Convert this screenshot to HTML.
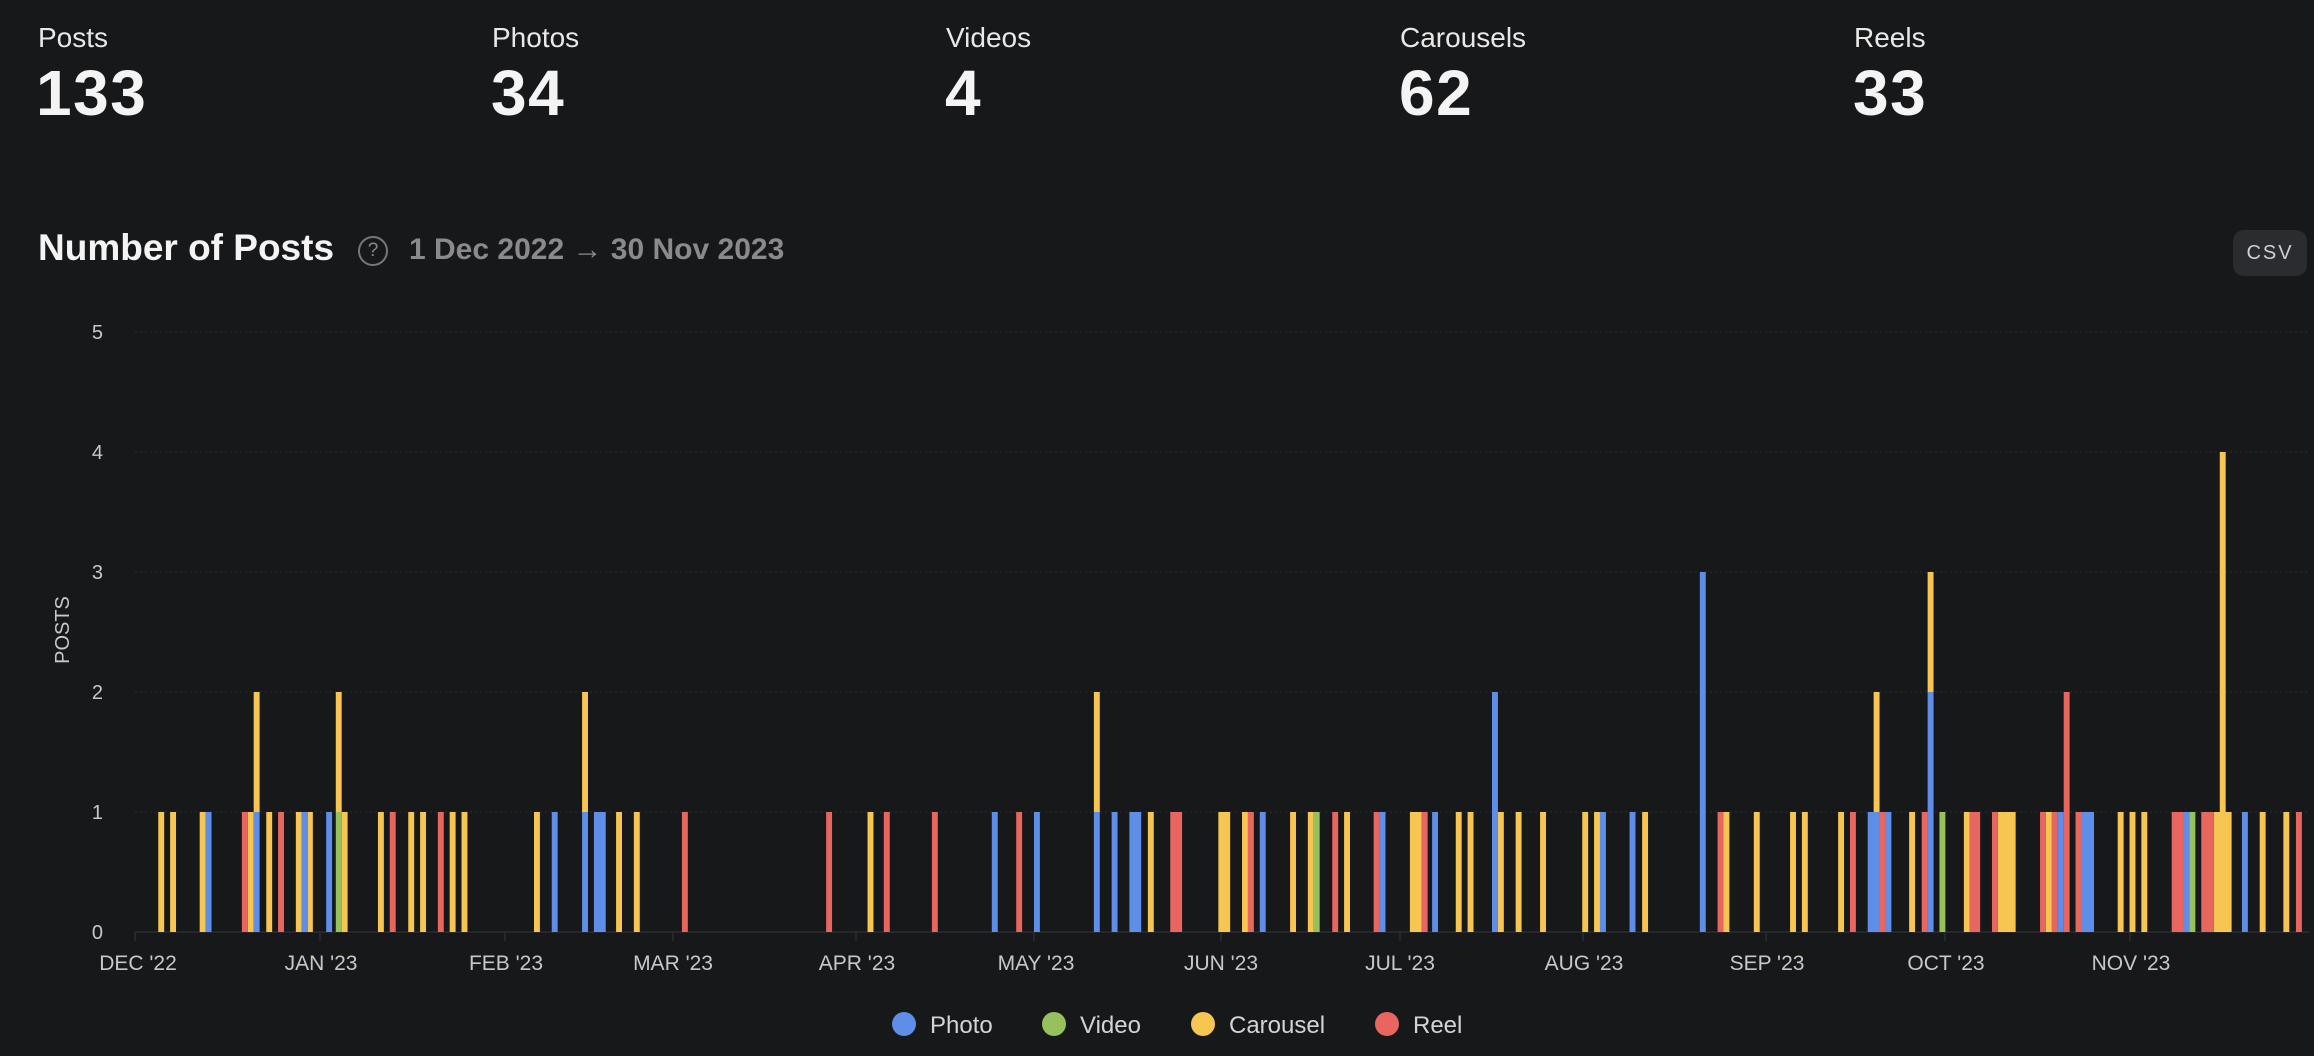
<!DOCTYPE html>
<html><head><meta charset="utf-8"><style>
html,body{margin:0;padding:0;background:#17181a;}
body{width:2314px;height:1056px;position:relative;overflow:hidden;font-family:"Liberation Sans",sans-serif;color:#f2f2f2;}
.lab{position:absolute;font-size:28px;color:#e8e8e8;top:22px;}
.num{position:absolute;font-size:64px;font-weight:700;top:56px;color:#f4f4f4;letter-spacing:1.5px;}
</style></head><body>
<div class="lab" style="left:38px">Posts</div><div class="num" style="left:36px">133</div>
<div class="lab" style="left:492px">Photos</div><div class="num" style="left:491px">34</div>
<div class="lab" style="left:946px">Videos</div><div class="num" style="left:945px">4</div>
<div class="lab" style="left:1400px">Carousels</div><div class="num" style="left:1399px">62</div>
<div class="lab" style="left:1854px">Reels</div><div class="num" style="left:1853px">33</div>
<div style="position:absolute;left:38px;top:227px;font-size:37px;font-weight:700;color:#f4f4f4;">Number of Posts</div>
<div style="position:absolute;left:358px;top:236px;width:26px;height:26px;border:2px solid #777;border-radius:50%;color:#888;font-size:19px;text-align:center;line-height:26px;">?</div>
<div style="position:absolute;left:409px;top:233px;font-size:30px;color:#8a8a8c;font-weight:700;">1 Dec 2022 → 30 Nov 2023</div>
<div style="position:absolute;left:2233px;top:230px;width:74px;height:46px;border-radius:11px;background:#2b2c30;color:#cfcfcf;font-size:20px;letter-spacing:2px;text-align:center;line-height:46px;">CSV</div>
<svg width="2314" height="1056" style="position:absolute;left:0;top:0" font-family="Liberation Sans, sans-serif">
<g stroke="#26272a" stroke-width="1.5" stroke-dasharray="2,3">
<line x1="135" x2="2310" y1="812" y2="812"/><line x1="135" x2="2310" y1="692" y2="692"/><line x1="135" x2="2310" y1="572" y2="572"/><line x1="135" x2="2310" y1="452" y2="452"/><line x1="135" x2="2310" y1="332" y2="332"/>
</g>
<line x1="135" x2="2310" y1="932" y2="932" stroke="#26272a" stroke-width="2"/>
<g fill="#c8c8c8" font-size="20" text-anchor="end">
<text x="103" y="939">0</text><text x="103" y="819">1</text><text x="103" y="699">2</text><text x="103" y="579">3</text><text x="103" y="459">4</text><text x="103" y="339">5</text>
</g>
<text transform="translate(69,630) rotate(-90)" fill="#c8c8c8" font-size="20" text-anchor="middle">POSTS</text>
<g stroke="#2c2d30" stroke-width="1.5">
<line x1="135" x2="135" y1="932" y2="941"/><line x1="320" x2="320" y1="932" y2="941"/><line x1="505" x2="505" y1="932" y2="941"/><line x1="673" x2="673" y1="932" y2="941"/><line x1="856" x2="856" y1="932" y2="941"/><line x1="1034" x2="1034" y1="932" y2="941"/><line x1="1221" x2="1221" y1="932" y2="941"/><line x1="1400" x2="1400" y1="932" y2="941"/><line x1="1583" x2="1583" y1="932" y2="941"/><line x1="1766" x2="1766" y1="932" y2="941"/><line x1="1945" x2="1945" y1="932" y2="941"/><line x1="2130" x2="2130" y1="932" y2="941"/>
</g>
<g fill="#c8c8c8" font-size="21" text-anchor="middle">
<text x="138" y="970">DEC '22</text><text x="321" y="970">JAN '23</text><text x="506" y="970">FEB '23</text><text x="673" y="970">MAR '23</text><text x="857" y="970">APR '23</text><text x="1036" y="970">MAY '23</text><text x="1221" y="970">JUN '23</text><text x="1400" y="970">JUL '23</text><text x="1584" y="970">AUG '23</text><text x="1767" y="970">SEP '23</text><text x="1946" y="970">OCT '23</text><text x="2131" y="970">NOV '23</text>
</g>
<g transform="translate(0,0) scale(0.7396,1)">
<g fill="#f7c552">
<rect x="214" y="812" width="8" height="120"/><rect x="230" y="812" width="8" height="120"/><rect x="270" y="812" width="8" height="120"/><rect x="335" y="812" width="8" height="120"/><rect x="343" y="692" width="8" height="120"/><rect x="360" y="812" width="8" height="120"/><rect x="400" y="812" width="8" height="120"/><rect x="416" y="812" width="7" height="120"/><rect x="454" y="692" width="8" height="120"/><rect x="462" y="812" width="8" height="120"/><rect x="511" y="812" width="8" height="120"/><rect x="552" y="812" width="8" height="120"/><rect x="568" y="812" width="8" height="120"/><rect x="608" y="812" width="8" height="120"/><rect x="624" y="812" width="8" height="120"/><rect x="722" y="812" width="8" height="120"/><rect x="787" y="692" width="8" height="120"/><rect x="833" y="812" width="8" height="120"/><rect x="857" y="812" width="8" height="120"/><rect x="1173" y="812" width="8" height="120"/><rect x="1479" y="692" width="8" height="120"/><rect x="1552" y="812" width="8" height="120"/>
</g>
<g fill="#5f8ee8">
<rect x="278" y="812" width="8" height="120"/><rect x="343" y="812" width="8" height="120"/><rect x="408" y="812" width="8" height="120"/><rect x="441" y="812" width="8" height="120"/><rect x="746" y="812" width="8" height="120"/><rect x="787" y="812" width="8" height="120"/><rect x="803" y="812" width="16" height="120"/><rect x="1341" y="812" width="8" height="120"/><rect x="1398" y="812" width="8" height="120"/><rect x="1479" y="812" width="8" height="120"/><rect x="1503" y="812" width="8" height="120"/><rect x="1527" y="812" width="16" height="120"/>
</g>
<g fill="#e8665f">
<rect x="327" y="812" width="8" height="120"/><rect x="376" y="812" width="8" height="120"/><rect x="527" y="812" width="8" height="120"/><rect x="592" y="812" width="8" height="120"/><rect x="922" y="812" width="8" height="120"/><rect x="1117" y="812" width="8" height="120"/><rect x="1195" y="812" width="8" height="120"/><rect x="1260" y="812" width="8" height="120"/><rect x="1374" y="812" width="8" height="120"/>
</g>
<rect x="454" y="812" width="8" height="120" fill="#97c15c"/>
</g>
<g transform="translate(1154,0) scale(0.7396,1)">
<g fill="#f7c552">
<rect x="87" y="812" width="16" height="120"/><rect x="119" y="812" width="8" height="120"/><rect x="184" y="812" width="8" height="120"/><rect x="208" y="812" width="8" height="120"/><rect x="257" y="812" width="8" height="120"/><rect x="346" y="812" width="16" height="120"/><rect x="408" y="812" width="8" height="120"/><rect x="424" y="812" width="8" height="120"/><rect x="465" y="812" width="8" height="120"/><rect x="489" y="812" width="8" height="120"/><rect x="522" y="812" width="8" height="120"/><rect x="579" y="812" width="8" height="120"/><rect x="595" y="812" width="8" height="120"/><rect x="660" y="812" width="8" height="120"/><rect x="770" y="812" width="8" height="120"/><rect x="811" y="812" width="8" height="120"/><rect x="860" y="812" width="8" height="120"/><rect x="876" y="812" width="8" height="120"/><rect x="925" y="812" width="8" height="120"/><rect x="973" y="692" width="8" height="120"/><rect x="1021" y="812" width="8" height="120"/><rect x="1046" y="572" width="8" height="120"/><rect x="1095" y="812" width="8" height="120"/><rect x="1141" y="812" width="24" height="120"/><rect x="1206" y="812" width="8" height="120"/><rect x="1303" y="812" width="8" height="120"/><rect x="1319" y="812" width="8" height="120"/><rect x="1335" y="812" width="8" height="120"/><rect x="1433" y="812" width="24" height="120"/><rect x="1441" y="452" width="8" height="360"/><rect x="1495" y="812" width="8" height="120"/><rect x="1527" y="812" width="8" height="120"/>
</g>
<g fill="#5f8ee8">
<rect x="143" y="812" width="8" height="120"/><rect x="305" y="812" width="8" height="120"/><rect x="376" y="812" width="8" height="120"/><rect x="457" y="692" width="8" height="240"/><rect x="603" y="812" width="8" height="120"/><rect x="643" y="812" width="8" height="120"/><rect x="738" y="572" width="8" height="360"/><rect x="965" y="812" width="16" height="120"/><rect x="989" y="812" width="8" height="120"/><rect x="1046" y="692" width="8" height="240"/><rect x="1222" y="812" width="8" height="120"/><rect x="1254" y="812" width="17" height="120"/><rect x="1392" y="812" width="8" height="120"/><rect x="1471" y="812" width="8" height="120"/>
</g>
<g fill="#e8665f">
<rect x="22" y="812" width="16" height="120"/><rect x="127" y="812" width="8" height="120"/><rect x="241" y="812" width="8" height="120"/><rect x="297" y="812" width="8" height="120"/><rect x="362" y="812" width="8" height="120"/><rect x="762" y="812" width="8" height="120"/><rect x="941" y="812" width="8" height="120"/><rect x="981" y="812" width="8" height="120"/><rect x="1038" y="812" width="8" height="120"/><rect x="1103" y="812" width="14" height="120"/><rect x="1133" y="812" width="8" height="120"/><rect x="1198" y="812" width="8" height="120"/><rect x="1214" y="812" width="8" height="120"/><rect x="1230" y="692" width="8" height="240"/><rect x="1246" y="812" width="8" height="120"/><rect x="1376" y="812" width="16" height="120"/><rect x="1416" y="812" width="17" height="120"/><rect x="1544" y="812" width="8" height="120"/>
</g>
<g fill="#97c15c">
<rect x="216" y="812" width="8" height="120"/><rect x="1062" y="812" width="8" height="120"/><rect x="1400" y="812" width="8" height="120"/>
</g>
</g>
<g font-size="24" fill="#d4d4d4">
<ellipse cx="904" cy="1024" rx="12" ry="12" fill="#5f8ee8"/><text x="930" y="1033">Photo</text>
<ellipse cx="1054" cy="1024" rx="12" ry="12" fill="#97c15c"/><text x="1080" y="1033">Video</text>
<ellipse cx="1203" cy="1024" rx="12" ry="12" fill="#f7c552"/><text x="1229" y="1033">Carousel</text>
<ellipse cx="1387" cy="1024" rx="12" ry="12" fill="#e8665f"/><text x="1413" y="1033">Reel</text>
</g>
</svg>
</body></html>
